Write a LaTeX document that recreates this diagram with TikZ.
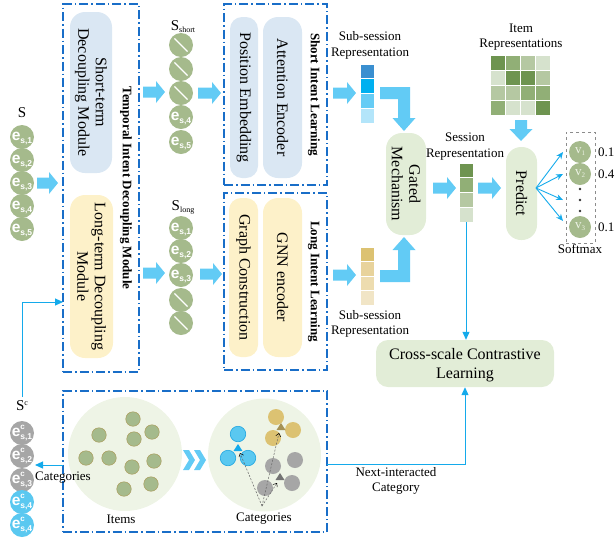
\documentclass[tikz,border=0pt]{standalone}
\usepackage{fontspec}
\setmainfont{Liberation Serif}
\newfontfamily\lsans{Liberation Sans}
\usetikzlibrary{arrows.meta}

\definecolor{boxblue}{RGB}{25,110,200}
\definecolor{fatblue}{RGB}{98,203,245}
\definecolor{thinblue}{RGB}{20,170,235}
\definecolor{modblue}{RGB}{218,231,243}
\definecolor{modyel}{RGB}{253,241,201}
\definecolor{pillgreen}{RGB}{226,237,215}
\definecolor{cgreen}{RGB}{165,186,140}
\definecolor{cgray}{RGB}{166,166,166}
\definecolor{cblue}{RGB}{90,200,240}
\definecolor{cblueline}{RGB}{30,165,225}
\definecolor{cgold}{RGB}{220,194,114}
\definecolor{bigc}{RGB}{238,244,230}
\definecolor{itemline}{RGB}{170,155,90}
\definecolor{vA1}{RGB}{58,143,208}
\definecolor{vA2}{RGB}{0,176,240}
\definecolor{vA3}{RGB}{102,204,245}
\definecolor{vA4}{RGB}{179,229,250}
\definecolor{vB1}{RGB}{220,194,114}
\definecolor{vB2}{RGB}{232,211,156}
\definecolor{vB3}{RGB}{237,220,175}
\definecolor{vB4}{RGB}{241,229,198}
\definecolor{gD}{RGB}{110,148,80}
\definecolor{gM}{RGB}{145,175,118}
\definecolor{gL}{RGB}{181,200,162}
\definecolor{gV}{RGB}{214,226,205}
\definecolor{vlab}{RGB}{236,242,228}

\newcommand\fbig{\fontsize{16}{17.5}\selectfont}
\newcommand\fmed{\fontsize{13}{15.5}\selectfont}
\newcommand\elab[1]{\smash{\raisebox{-3pt}{\lsans\bfseries\fontsize{15.5}{15.5}\selectfont e\raisebox{-3pt}{\fontsize{8.5}{8.5}\selectfont #1}}}}
\newcommand\eclab[1]{\smash{\raisebox{-3pt}{\lsans\bfseries\fontsize{15.5}{15.5}\selectfont e\rlap{\raisebox{7pt}{\fontsize{8}{8}\selectfont c}}\raisebox{-3.5pt}{\fontsize{8.5}{8.5}\selectfont #1}}}}
\newcommand\vlabel[1]{{\color{vlab}\fontsize{13}{13}\selectfont v\raisebox{-2pt}{\fontsize{7}{7}\selectfont #1}}}
% fat arrow pointing right: x1, x2, y
\newcommand\fatR[3]{\fill[fatblue] (#1,#3-5.5) -- (#2-9,#3-5.5) -- (#2-9,#3-11) -- (#2,#3) -- (#2-9,#3+11) -- (#2-9,#3+5.5) -- (#1,#3+5.5) -- cycle;}

\begin{document}
\begin{tikzpicture}[x=1pt,y=-1pt,
  dashbox/.style={draw=boxblue, line width=1.3pt, dash pattern=on 9pt off 3pt on 1.5pt off 3pt, inner sep=0pt, outer sep=0pt},
  blueblock/.style={fill=modblue, inner sep=0pt, align=center, font=\fbig},
  yelblock/.style={fill=modyel, inner sep=0pt, align=center, font=\fbig},
  greenblock/.style={fill=pillgreen, inner sep=0pt, align=center, font=\fbig},
  boldlab/.style={font=\fmed\bfseries, inner sep=0pt},
  plainlab/.style={font=\fmed, inner sep=0pt, align=center},
  seqc/.style={circle, fill=cgreen, minimum size=24pt, inner sep=0pt, text=white},
  grayc/.style={circle, fill=cgray, minimum size=24pt, inner sep=0pt, text=white},
  bluec/.style={circle, fill=cblue, minimum size=24pt, inner sep=0pt, text=white},
  vcirc/.style={circle, fill=cgreen, minimum size=22pt, inner sep=0pt},
  itemc/.style={circle, fill=cgreen, draw=itemline, line width=0.5pt, minimum size=14.5pt, inner sep=0pt},
  catblue/.style={circle, fill=cblue, draw=cblueline, line width=0.6pt, minimum size=15.5pt, inner sep=0pt},
  catgold/.style={circle, fill=cgold, minimum size=16pt, inner sep=0pt},
  catgray/.style={circle, fill=cgray, minimum size=16pt, inner sep=0pt},
  bigcirc/.style={circle, fill=bigc, inner sep=0pt},
  thinarr/.style={draw=thinblue, line width=1pt, -{Triangle[length=8pt,width=7pt]}},
  predarr/.style={draw=thinblue, line width=0.9pt, -{Stealth[length=7pt,width=6pt]}},
  catln/.style={draw=black!60, line width=0.5pt, dash pattern=on 2pt off 1.5pt, -{Straight Barb[length=3pt,width=5pt,color=black]}},
  cell/.style={draw=white, line width=0.6pt}
]
\useasboundingbox (0,0) rectangle (616,539);

% ---------- dash-dot frames ----------
\node[dashbox, minimum width=76pt, minimum height=368pt] (tidm) at (101,188) {};
\node[dashbox, minimum width=103pt, minimum height=181pt] (sil) at (275.5,94.5) {};
\node[dashbox, minimum width=103pt, minimum height=177pt] (lil) at (275.5,281.5) {};
\node[dashbox, minimum width=264pt, minimum height=141pt] (catbox) at (195,461.5) {};

\node[boldlab, rotate=-90] (tidml) at (126,188) {Temporal Intent Decoupling Module};
\node[boldlab, rotate=-90] (sill) at (314,94.5) {Short Intent Learning};
\node[boldlab, rotate=-90] (lill) at (314,281.5) {Long Intent Learning};

% ---------- modules ----------
\node[blueblock, rotate=-90, minimum width=161pt, minimum height=42pt, rounded corners=15pt] (stm) at (91,92.5) {Short-term\\Decoupling Module};
\node[yelblock, rotate=-90, minimum width=163pt, minimum height=43pt, rounded corners=15pt] (ltm) at (91.5,276.5) {Long-term Decoupling\\Module};
\node[blueblock, rotate=-90, minimum width=161pt, minimum height=28pt, rounded corners=12pt] (pos) at (244,97.5) {Position Embedding};
\node[blueblock, rotate=-90, minimum width=161pt, minimum height=39pt, rounded corners=15pt] (att) at (282.5,97.5) {Attention Encoder};
\node[yelblock, rotate=-90, minimum width=159pt, minimum height=29pt, rounded corners=12pt] (gc) at (243.5,277.5) {Graph Construction};
\node[yelblock, rotate=-90, minimum width=159pt, minimum height=39pt, rounded corners=15pt] (gnn) at (282.5,277.5) {GNN encoder};
\node[greenblock, rotate=-90, minimum width=102pt, minimum height=40pt, rounded corners=16pt] (gated) at (406,184) {Gated\\Mechanism};
\node[greenblock, rotate=-90, minimum width=93pt, minimum height=31pt, rounded corners=15pt] (pred) at (521.5,193.5) {Predict};
\node[greenblock, minimum width=178pt, minimum height=47pt, rounded corners=12pt, text depth=0pt] (cross) at (465,363.5) {Cross-scale Contrastive\\[1.5pt]Learning};

% ---------- input session S ----------
\node[font=\fontsize{15}{15}\selectfont, inner sep=0pt] (slab) at (22,113) {S};
\foreach \y/\l [count=\i] in {137/{s,1},160/{s,2},183/{s,3},206/{s,4},229/{s,5}}
  \node[seqc] (s\i) at (22,\y) {\elab{\l}};

% ---------- S short ----------
\node[font=\fontsize{15}{15}\selectfont, inner sep=0pt] (sslab) at (183,27) {S\raisebox{-2pt}{\fontsize{8}{8}\selectfont short}};
\foreach \y [count=\i] in {45,69,93}{
  \node[seqc] (ss\i) at (181,\y) {};
  \draw[white, line width=1.3pt, shorten <=3pt, shorten >=3pt] (ss\i.north west) -- (ss\i.south east);
}
\node[seqc] (ss4) at (181,117) {\elab{s,4}};
\node[seqc] (ss5) at (181,142) {\elab{s,5}};

% ---------- S long ----------
\node[font=\fontsize{15}{15}\selectfont, inner sep=0pt] (sllab) at (183,207) {S\raisebox{-2pt}{\fontsize{8}{8}\selectfont long}};
\node[seqc] (sl1) at (181,228) {\elab{s,1}};
\node[seqc] (sl2) at (181,251) {\elab{s,2}};
\node[seqc] (sl3) at (181,275) {\elab{s,3}};
\foreach \y [count=\i from 4] in {300,323}{
  \node[seqc] (sl\i) at (181,\y) {};
  \draw[white, line width=1.3pt, shorten <=3pt, shorten >=3pt] (sl\i.north west) -- (sl\i.south east);
}

% ---------- fat arrows ----------
\fatR{37}{58}{183}
\fatR{143}{165}{92}
\fatR{143}{165}{273}
\fatR{198}{221}{93}
\fatR{200}{222}{274}
\fatR{333}{356}{93}
\fatR{333}{356}{275}
\fatR{433}{456}{188}
\fatR{478}{501}{188}
% elbow arrows into gated
\fill[fatblue] (380,87) -- (410,87) -- (410,118) -- (415.5,118) -- (404,131) -- (392.5,118) -- (398,118) -- (398,99) -- (380,99) -- cycle;
\fill[fatblue] (380,282) -- (410,282) -- (410,250) -- (415.5,250) -- (404,237) -- (392.5,250) -- (398,250) -- (398,270) -- (380,270) -- cycle;
% down arrow matrix -> predict
\fill[fatblue] (515,120) -- (527,120) -- (527,129) -- (532.5,129) -- (521,141) -- (509.5,129) -- (515,129) -- cycle;

% ---------- sub-session vectors ----------
\node[plainlab] (subA) at (370,45.5) {Sub-session\\Representation};
\node[inner sep=0pt, minimum width=14pt, minimum height=59pt] (vecA) at (367,93.5) {};
\foreach \c [count=\i from 0] in {vA1,vA2,vA3,vA4}
  \fill[\c, cell] (360,64+\i*14.75) rectangle ++(14,14.75);

\node[inner sep=0pt, minimum width=14pt, minimum height=58pt] (vecB) at (367,276) {};
\foreach \c [count=\i from 0] in {vB1,vB2,vB3,vB4}
  \fill[\c, cell] (360,247+\i*14.5) rectangle ++(14,14.5);
\node[plainlab] (subB) at (370,324) {Sub-session\\Representation};

% ---------- session representation ----------
\node[plainlab] (sessl) at (465,146.5) {Session\\Representation};
\node[inner sep=0pt, minimum width=14pt, minimum height=59pt] (vecS) at (466,192.5) {};
\foreach \c [count=\i from 0] in {gD,gM,gL,gV}
  \fill[\c, cell] (459,163+\i*14.75) rectangle ++(14,14.75);

% ---------- item representations ----------
\node[plainlab] (iteml) at (521,37) {Item\\Representations};
\node[inner sep=0pt, minimum width=60pt, minimum height=60pt] (mat) at (520,85) {};
\foreach \row [count=\i from 0] in {{gD,gM,gL,gV},{gV,gD,gD,gL},{gL,gL,gM,gM},{gM,gV,gV,gD}}
  \foreach \c [count=\j from 0] in \row
    \fill[\c, cell] (490+\j*15,55+\i*15) rectangle ++(15,15);

% ---------- softmax ----------
\node[draw=black!45, dashed, line width=0.6pt, minimum width=29pt, minimum height=111pt, inner sep=0pt] (smbox) at (580.5,187.5) {};
\node[vcirc] (v1) at (580,152) {\vlabel{1}};
\node[vcirc] (v2) at (580,174) {\vlabel{2}};
\node[vcirc] (v3) at (580,227) {\vlabel{3}};
\node[inner sep=0pt] (vd) at (580,200) {};
\foreach \y in {189,200,211} \fill[black!80] (580,\y) circle (1.3pt);
\node[plainlab, anchor=west] (p1) at (598,152) {0.1};
\node[plainlab, anchor=west] (p2) at (598,174) {0.4};
\node[plainlab, anchor=west] (p3) at (598,227) {0.1};
\node[plainlab] (smlab) at (580,249) {Softmax};

\coordinate (po) at (536,188);
\coordinate (t1) at (563,152);
\coordinate (t2) at (563,174);
\coordinate (t3) at (563,200);
\coordinate (t4) at (563,221);
\foreach \t in {t1,t2,t3,t4} \draw[predarr] (po) -- (\t);

% ---------- thin connectors ----------
\draw[thinarr] (vecS.south) -- (vecS.south |- cross.north);
\coordinate (nic) at (327,464);
\draw[thinarr] (nic) -| (cross.south);
\node[plainlab] (nicl) at (396,481) {Next-interacted\\Category};

% ---------- bottom: items & categories ----------
\node[bigcirc, minimum size=114pt] (itemsc) at (125,454) {};
\foreach \x/\y [count=\i] in {99/435,133/419,152/432,134/439,86/458,109/458,132/467,154/461,124/489,151/484}
  \node[itemc] (it\i) at (\x,\y) {};
\node[plainlab] (itemsl) at (121,519) {Items};

\fill[fatblue] (183,450) -- (189,450) -- (195,460) -- (189,470) -- (183,470) -- (189,460) -- cycle;
\fill[fatblue] (194,450) -- (200,450) -- (206,460) -- (200,470) -- (194,470) -- (200,460) -- cycle;

\node[bigcirc, minimum size=113pt] (catsc) at (264.5,455) {};
\node[catblue] (cb1) at (238,434) {};
\node[catblue] (cb2) at (228,458) {};
\node[catblue] (cb3) at (248,458) {};
\node[catgold] (cg1) at (276,417) {};
\node[catgold] (cg2) at (293,430) {};
\node[catgold] (cg3) at (273,438) {};
\node[catgray] (cy1) at (273,466) {};
\node[catgray] (cy2) at (295,460) {};
\node[catgray] (cy3) at (265,488) {};
\node[catgray] (cy4) at (292,483) {};
\fill[thinblue] (238,444) -- (242.5,451) -- (233.5,451) -- cycle;
\fill[cgold!75!black] (281,423) -- (285.5,430) -- (276.5,430) -- cycle;
\fill[black!55] (280,473) -- (284.5,480) -- (275.5,480) -- cycle;
\coordinate (co) at (262,506);
\draw[catln] (co) -- (240,453);
\draw[catln] (co) -- (279,433);
\draw[catln] (co) -- (277,483);
\node[plainlab] (catl) at (264,519) {Categories};

% ---------- S^c ----------
\node[font=\fontsize{15}{15}\selectfont, inner sep=0pt] (sclab) at (22,406) {S\raisebox{5pt}{\fontsize{8}{8}\selectfont c}};
\node[grayc] (c1) at (22,433) {\eclab{s,1}};
\node[grayc] (c2) at (22,456) {\eclab{s,2}};
\node[grayc] (c3) at (22,480) {\eclab{s,3}};
\node[bluec] (c4) at (22,502) {\eclab{s,4}};
\node[bluec] (c5) at (22,525) {\eclab{s,4}};

\coordinate (catout) at (63,465);
\coordinate (catin) at (35,465);
\draw[thinarr] (catout) -- (catin);
\node[plainlab] (catsl) at (63,478) {Categories};

\coordinate (scup) at (22,397);
\coordinate (ltin) at (63,302);
\draw[thinarr] (scup) |- (ltin);

\end{tikzpicture}
\end{document}
